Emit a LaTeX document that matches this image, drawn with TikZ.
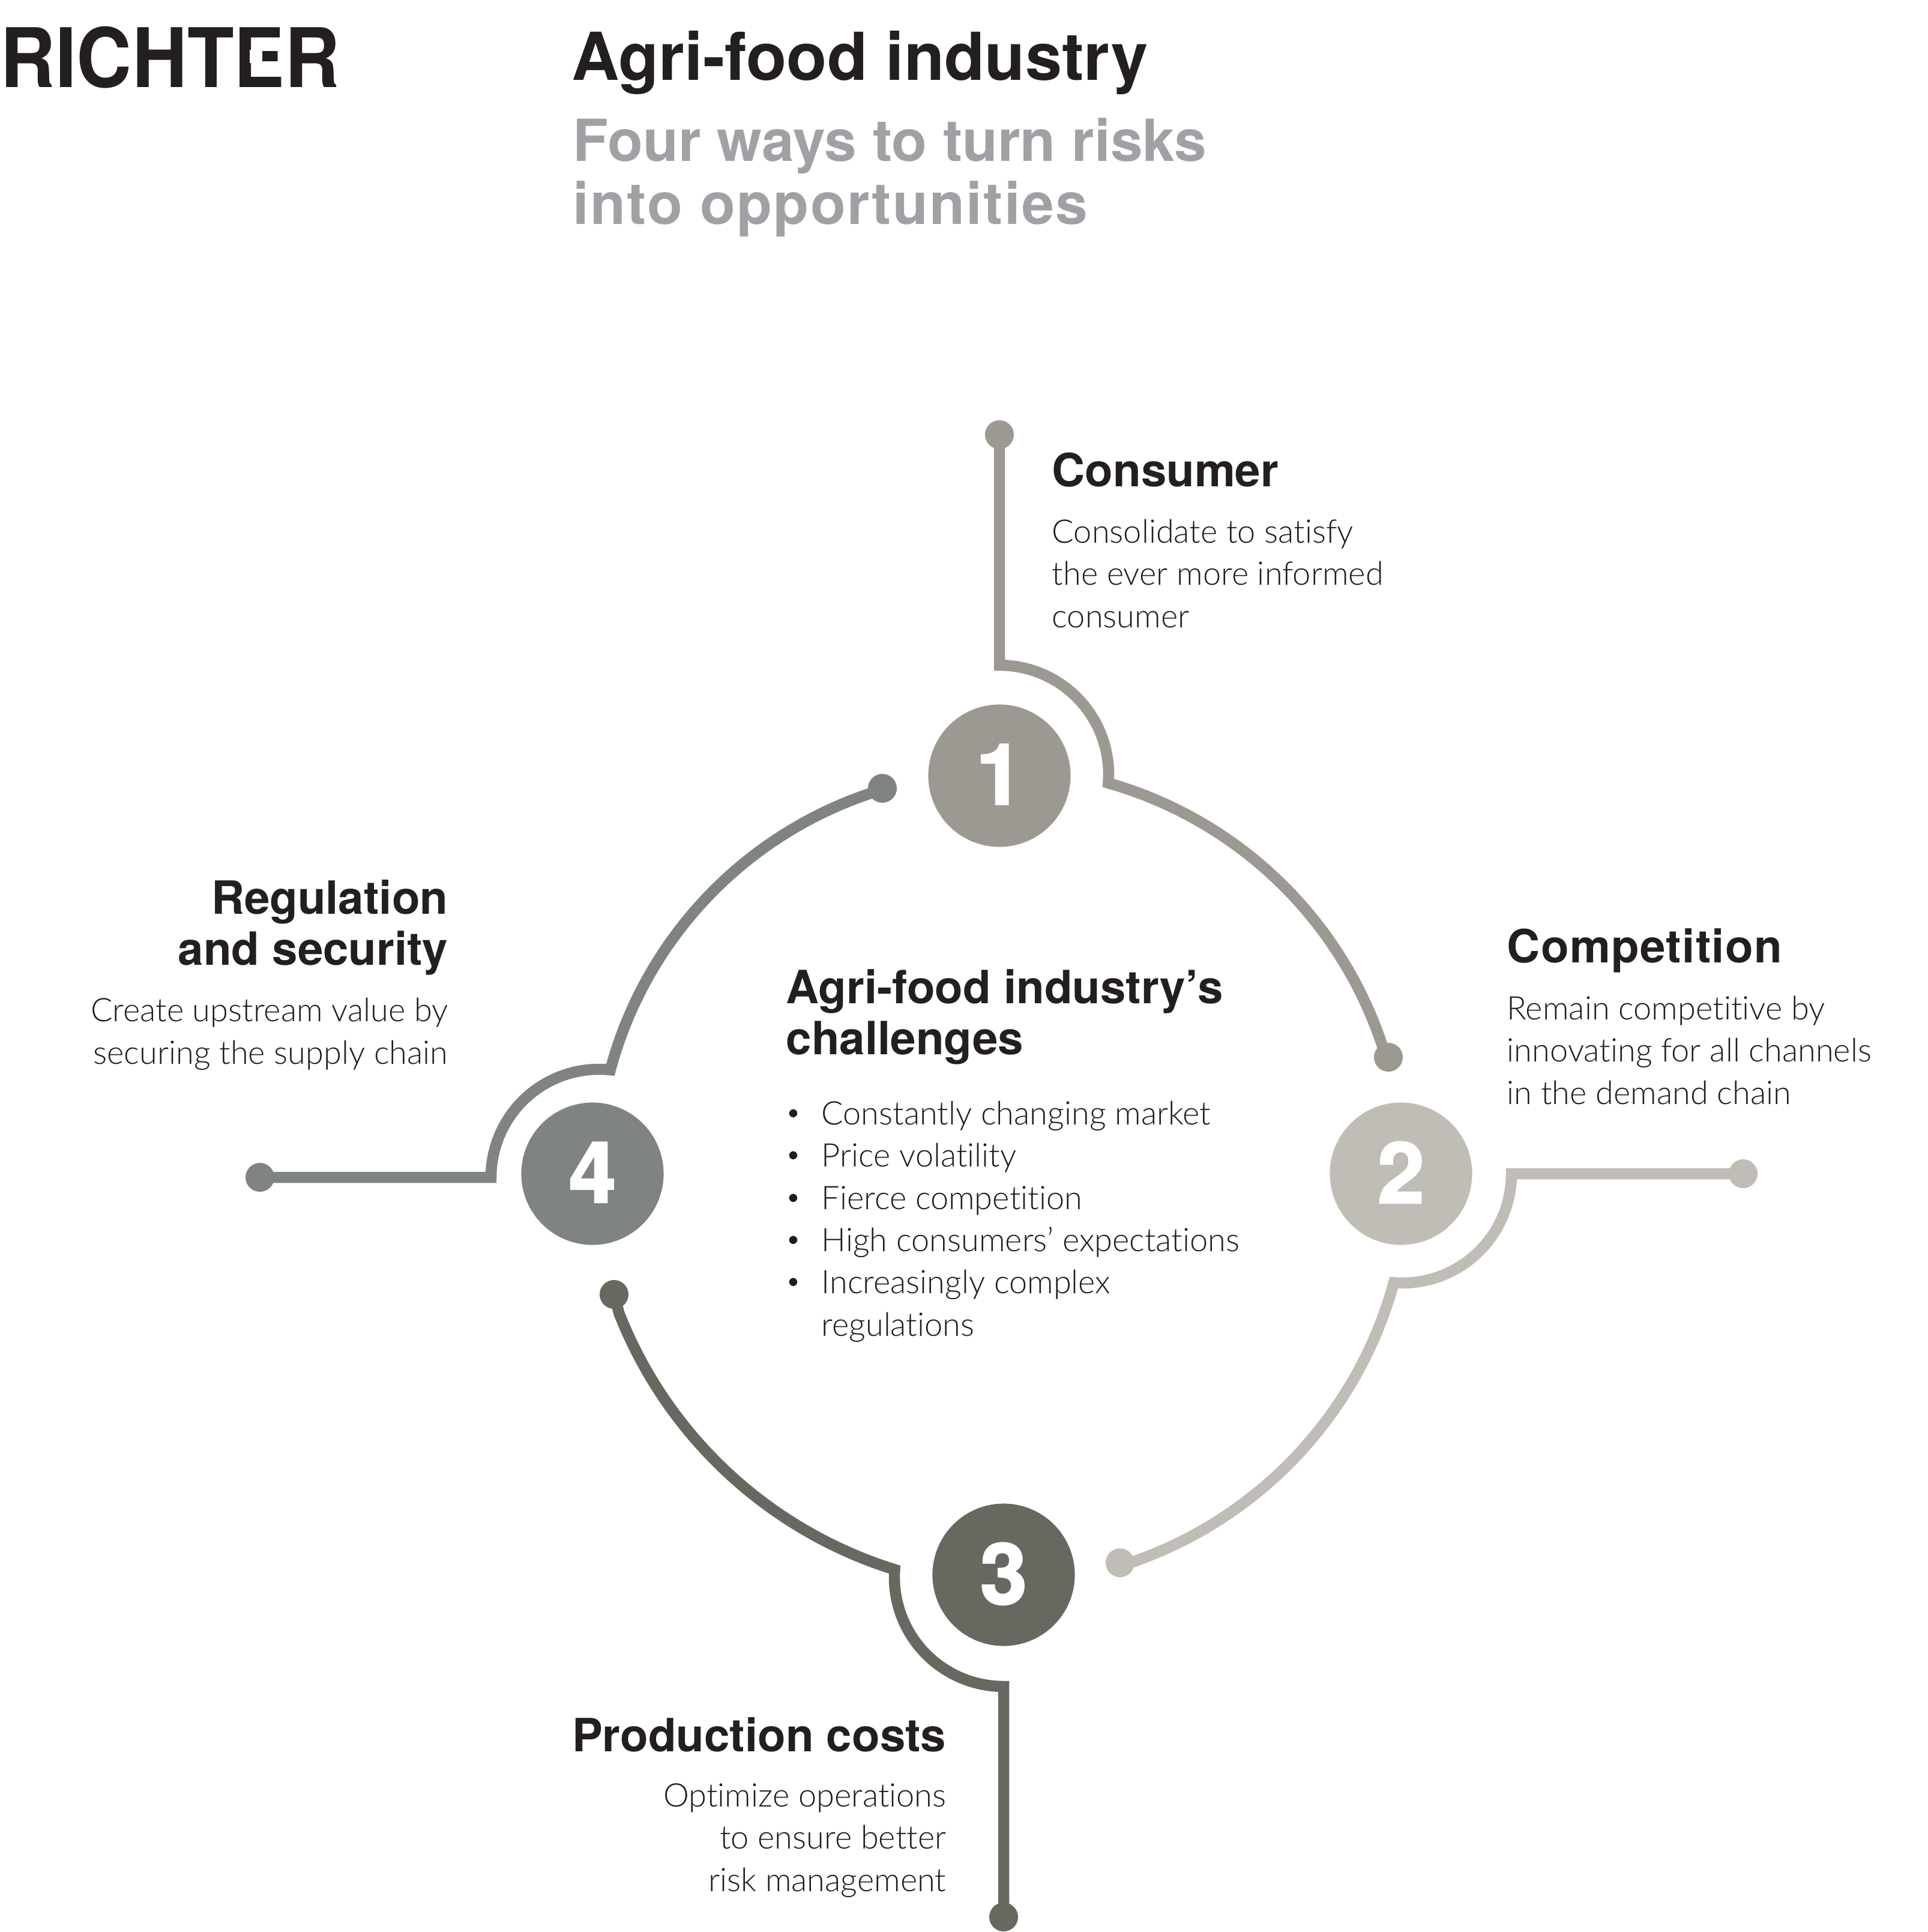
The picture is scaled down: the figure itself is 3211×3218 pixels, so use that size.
\documentclass[tikz,border=0pt]{standalone}
\usepackage{fontspec}
\setmainfont{TeX Gyre Heros}
\newfontfamily\lightfont{Lato Light}[Ligatures=NoCommon]
\newfontfamily\digitfont{TeX Gyre Heros Bold}[FakeBold=2]
\usepackage{tikz}
\definecolor{txtblack}{HTML}{231F20}
\definecolor{txtbody}{HTML}{1E1D1D}
\definecolor{txtgrey}{HTML}{A0A1A5}
\definecolor{toneone}{HTML}{9C9992}
\definecolor{tonetwo}{HTML}{BFBDB6}
\definecolor{tonethree}{HTML}{686861}
\definecolor{tonefour}{HTML}{808383}
\tikzset{
	numdisc/.style={circle,fill=#1,minimum size=2.37cm,inner sep=0pt,text=white,font=\fontsize{40}{40}\selectfont\digitfont},
	enddot/.style={circle,fill=#1,minimum size=0.48cm,inner sep=0pt},
	ringline/.style={line width=0.185cm,draw=#1},
	headtxt/.style={inner sep=0pt,text=txtblack,align=#1,font=\fontsize{21.7}{24}\selectfont\bfseries},
	bodytxt/.style={inner sep=0pt,text=txtbody,align=#1,font=\fontsize{15.4}{20}\selectfont\lightfont}
}
\newcommand{\chal}[1]{\makebox[15.9pt][l]{\normalfont•}#1}
\newcommand{\lifted}[1]{\raisebox{1.3pt}{#1}}
\begin{document}
\begin{tikzpicture}[x=0.01cm,y=0.01cm]
		\useasboundingbox (0,0) rectangle (3211,-3218);
		\node[anchor=base west,inner sep=0pt,text=txtblack,font=\fontsize{38.9}{40}\selectfont\bfseries] (logo) at (0,-146) {\addfontfeature{FakeStretch=0.93}RICHTER};
		\fill[white] (416,-83) rectangle (437,-105);
		\node[anchor=base west,inner sep=0pt,text=txtblack,font=\fontsize{31.3}{34}\selectfont\bfseries] (title) at (952,-134) {Agri-food industry};
		\node[anchor=base west,inner sep=0pt,text=txtgrey,align=left,font=\fontsize{27.45}{29.6}\selectfont\bfseries] (subtitle) at (954,-373) {Four ways to turn risks\\{\addfontfeature{LetterSpace=2.3}into opportunities}};

		\node[numdisc=toneone] (numa) at (1665,-1292) {\lifted{1}};
		\node[numdisc=tonetwo] (numb) at (2334,-1955) {\lifted{2}};
		\node[numdisc=tonethree] (numc) at (1672,-2623) {\lifted{3}};
		\node[numdisc=tonefour] (numd) at (987,-1955) {\lifted{4}};

		\node[enddot=toneone] (dota) at (1665,-724) {};
		\node[enddot=toneone] (taila) at (2313,-1761) {};
		\node[enddot=tonetwo] (dotb) at (2904,-1955) {};
		\node[enddot=tonetwo] (tailb) at (1866,-2603) {};
		\node[enddot=tonethree] (dotc) at (1672,-3193) {};
		\node[enddot=tonethree] (tailc) at (1023,-2156) {};
		\node[enddot=tonefour] (dotd) at (433,-1961) {};
		\node[enddot=tonefour] (taild) at (1470,-1313) {};

		\coordinate (kneea) at (1665,-1108);
		\coordinate (kneeb) at (2518,-1955);
		\coordinate (kneec) at (1672,-2809);
		\coordinate (kneed) at (818,-1961);

		\draw[ringline=toneone] (dota.center) -- (kneea) arc[start angle=90,end angle=-4.5,radius=182] arc[start angle=74.1,end angle=16.6,radius=676] -- (taila.center);
		\draw[ringline=tonetwo] (dotb.center) -- (kneeb) arc[start angle=0,end angle=-94.4,radius=182] arc[start angle=-15.3,end angle=-72.4,radius=683] -- (tailb.center);
		\draw[ringline=tonethree] (dotc.center) -- (kneec) arc[start angle=270,end angle=176,radius=182] arc[start angle=252.7,end angle=201.5,radius=725] -- (tailc.center);
		\draw[ringline=tonefour] (dotd.center) -- (kneed) arc[start angle=180,end angle=84,radius=180] arc[start angle=165,end angle=106.5,radius=668] -- (taild.center);

		\node[headtxt=left,anchor=base west] (conshead) at (1752,-810) {Consumer};
		\node[bodytxt=left,anchor=base west] (consbody) at (1752,-1045) {Consolidate to satisfy\\the ever more informed\\consumer};
		\node[headtxt=left,anchor=base west] (comphead) at (2510,-1603) {\addfontfeature{LetterSpace=1.7}Competition};
		\node[bodytxt=left,anchor=base west] (compbody) at (2510,-1839) {Remain competitive by\\innovating for all channels\\in the demand chain};
		\node[headtxt=right,anchor=base east] (prodhead) at (1577,-2917) {Production costs};
		\node[bodytxt=right,anchor=base east] (prodbody) at (1577,-3150) {Optimize operations\\to ensure better\\risk management};
		\node[headtxt=right,anchor=base east] (reghead) at (747,-1607) {Regulation\\and security};
		\node[bodytxt=right,anchor=base east] (regbody) at (747,-1772) {Create upstream value by\\securing the supply chain};

		\node[headtxt=left,anchor=base west] (chalhead) at (1309,-1756) {Agri-food industry’s\\challenges};
		\node[bodytxt=left,anchor=base west] (chalbody) at (1312,-2225) {\chal{Constantly changing market}\\\chal{Price volatility}\\\chal{Fierce competition}\\\chal{High consumers’ expectations}\\\chal{Increasingly complex}\\\hspace*{15.9pt}regulations};
		\end{tikzpicture}
\end{document}
